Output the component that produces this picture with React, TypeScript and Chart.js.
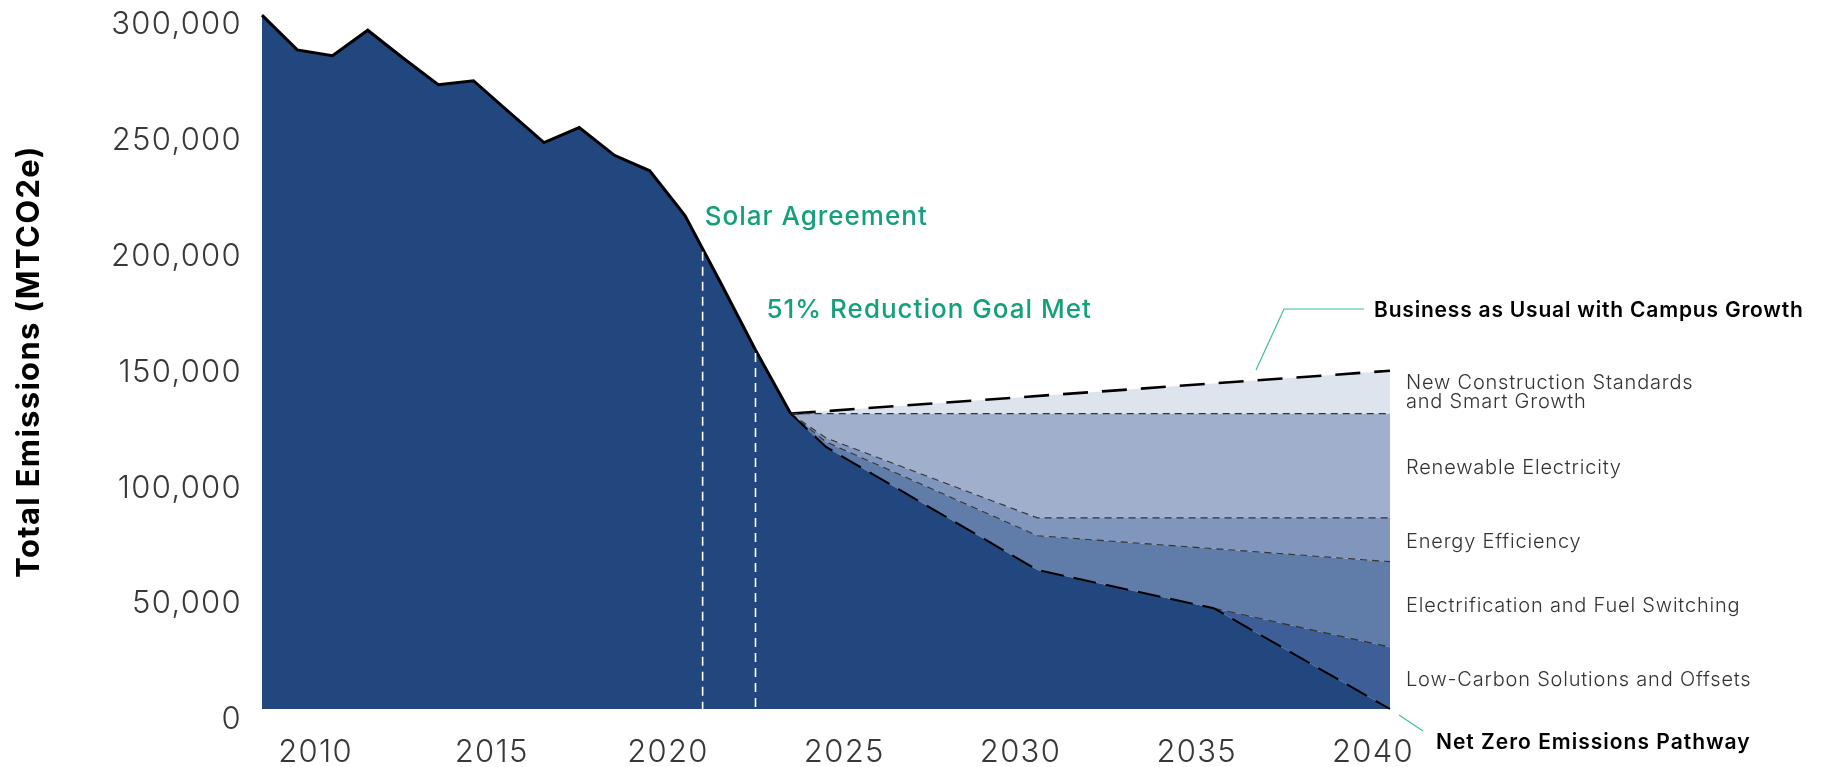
import React, { useEffect, useRef } from 'react';
import { Chart, registerables } from 'chart.js';

Chart.register(...registerables);

// ---------- data ----------
const HIST_YEARS = [2008, 2009, 2010, 2011, 2012, 2013, 2014, 2015, 2016, 2017, 2018, 2019, 2020, 2021, 2022, 2023];
const HIST_VALUES = [299500, 284500, 282000, 293000, 281000, 269500, 271200, 257800, 244500, 251000, 239000, 232300, 213000, 184300, 155000, 127500];

const PATH_YEARS = [2023, 2024, 2030, 2035, 2040];
const NET_ZERO_VALUES = [127500, 113100, 60000, 43500, 0];
const ELECTRIFICATION_VALUES = [127500, 113100, 60000, 43500, 26700];
const EFFICIENCY_VALUES = [127500, 115300, 74800, 69200, 63600];
const RENEWABLE_VALUES = [127500, 117000, 82500, 82500, 82500];
const NEW_CONSTRUCTION_VALUES = [127500, 127500, 127500, 127500, 127500];

const BAU_YEARS = [2023, 2040];
const BAU_VALUES = [127500, 146000];

const X_TICKS = [2010, 2015, 2020, 2025, 2030, 2035, 2040];
const Y_TICKS = [0, 50000, 100000, 150000, 200000, 250000, 300000];

const MILESTONE_YEARS = [2020.5, 2022];
const MILESTONE_LABELS = ['Solar Agreement', '51% Reduction Goal Met'];

const BAND_LABELS = [
  ['New Construction Standards', 'and Smart Growth'],
  ['Renewable Electricity'],
  ['Energy Efficiency'],
  ['Electrification and Fuel Switching'],
  ['Low-Carbon Solutions and Offsets'],
];
const BAU_LABEL = 'Business as Usual with Campus Growth';
const NET_ZERO_LABEL = 'Net Zero Emissions Pathway';
const Y_TITLE = 'Total Emissions (MTCO2e)';

// ---------- styles ----------
const FONT = 'Inter, "Open Sans", sans-serif';
const DARK = '#22477f';
const LOW_CARBON = '#3d5e96';
const ELECTRIFICATION = '#607ca8';
const EFFICIENCY = '#8096bd';
const RENEWABLE = '#a0afcc';
const NEW_CONSTRUCTION = '#dee4ed';
const GREEN = '#14a07a';
const LEADER = '#3cbf9a';
const THIN = '#333333';
const TEXT = '#383838';

const pts = (xs: number[], ys: number[]) => xs.map((x, i) => ({ x, y: ys[i] }));

// points of the electrification boundary where it departs from the net-zero path
const electrificationVisible = () => {
  const out: { x: number; y: number }[] = [];
  PATH_YEARS.forEach((yr, i) => {
    const differs = ELECTRIFICATION_VALUES[i] !== NET_ZERO_VALUES[i];
    const nextDiffers = i + 1 < PATH_YEARS.length && ELECTRIFICATION_VALUES[i + 1] !== NET_ZERO_VALUES[i + 1];
    if (differs || nextDiffers) out.push({ x: yr, y: ELECTRIFICATION_VALUES[i] });
  });
  return out;
};

const interpHist = (yr: number) => {
  for (let i = 0; i < HIST_YEARS.length - 1; i++) {
    if (yr >= HIST_YEARS[i] && yr <= HIST_YEARS[i + 1]) {
      const t = (yr - HIST_YEARS[i]) / (HIST_YEARS[i + 1] - HIST_YEARS[i]);
      return HIST_VALUES[i] + t * (HIST_VALUES[i + 1] - HIST_VALUES[i]);
    }
  }
  return 0;
};

const spacingPlugin = {
  id: 'spacing',
  beforeDraw(chart: any) {
    (chart.ctx as any).letterSpacing = '1.3px';
  },
};

const annotationPlugin = {
  id: 'annotations',
  afterDatasetsDraw(chart: any) {
    const { ctx, chartArea, scales } = chart;
    const x = scales.x;
    const y = scales.y;
    ctx.save();

    // milestone dashed lines + labels
    const textOffsets = [
      { dx: 2, dy: -35 },
      { dx: 11, dy: -43 },
    ];
    MILESTONE_YEARS.forEach((yr, k) => {
      const px = x.getPixelForValue(yr);
      const top = y.getPixelForValue(interpHist(yr)) + 3;
      const bottom = y.getPixelForValue(0);
      ctx.beginPath();
      ctx.strokeStyle = '#ffffff';
      ctx.lineWidth = 1.6;
      ctx.setLineDash([9, 6]);
      ctx.moveTo(px, top);
      ctx.lineTo(px, bottom);
      ctx.stroke();
      ctx.setLineDash([]);
      ctx.fillStyle = GREEN;
      ctx.letterSpacing = '1px';
      ctx.font = `500 26px ${FONT}`;
      ctx.textAlign = 'left';
      ctx.textBaseline = 'middle';
      ctx.fillText(MILESTONE_LABELS[k], px + textOffsets[k].dx, top + textOffsets[k].dy);
    });

    // band labels on the right
    const last = PATH_YEARS.length - 1;
    const bounds = [
      BAU_VALUES[BAU_VALUES.length - 1],
      NEW_CONSTRUCTION_VALUES[last],
      RENEWABLE_VALUES[last],
      EFFICIENCY_VALUES[last],
      ELECTRIFICATION_VALUES[last],
      NET_ZERO_VALUES[last],
    ];
    ctx.fillStyle = '#333333';
    ctx.letterSpacing = '0.8px';
    ctx.font = `300 20px ${FONT}`;
    ctx.textAlign = 'left';
    ctx.textBaseline = 'middle';
    const lx = chartArea.right + 16;
    BAND_LABELS.forEach((lines, k) => {
      const mid = (y.getPixelForValue(bounds[k]) + y.getPixelForValue(bounds[k + 1])) / 2 + 2;
      const lh = 19;
      lines.forEach((line, j) => {
        ctx.fillText(line, lx, mid + (j - (lines.length - 1) / 2) * lh - (lines.length > 1 ? 2 : 0));
      });
    });

    // BAU label + leader
    ctx.strokeStyle = LEADER;
    ctx.lineWidth = 1.2;
    ctx.beginPath();
    ctx.moveTo(chartArea.right - 134, 370);
    ctx.lineTo(chartArea.right - 106, 309);
    ctx.lineTo(chartArea.right - 26, 309);
    ctx.stroke();
    ctx.fillStyle = '#000';
    ctx.letterSpacing = '0.8px';
    ctx.font = `600 21px ${FONT}`;
    ctx.fillText(BAU_LABEL, chartArea.right - 16, 311);

    // Net zero label + leader
    ctx.beginPath();
    ctx.moveTo(chartArea.right + 9, chartArea.bottom + 6);
    ctx.lineTo(chartArea.right + 33, chartArea.bottom + 22);
    ctx.stroke();
    ctx.letterSpacing = '1px';
    ctx.fillText(NET_ZERO_LABEL, chartArea.right + 46, chartArea.bottom + 34);

    ctx.restore();
  },
};

export default function App() {
  const canvasRef = useRef<HTMLCanvasElement | null>(null);

  useEffect(() => {
    if (!canvasRef.current) return;
    const common = { pointRadius: 0, pointHoverRadius: 0, tension: 0, clip: false as any };
    const chart = new Chart(canvasRef.current, {
      type: 'line',
      data: {
        datasets: [
          {
            // 0: dark emissions area
            ...common,
            data: [...pts(HIST_YEARS, HIST_VALUES), ...pts(PATH_YEARS, NET_ZERO_VALUES).slice(1)],
            borderWidth: 0,
            borderColor: 'rgba(0,0,0,0)',
            backgroundColor: DARK,
            fill: 'origin',
          },
          {
            // 1: net zero pathway line
            ...common,
            data: pts(PATH_YEARS, NET_ZERO_VALUES),
            borderColor: '#000',
            borderWidth: 2,
            borderDash: [23, 10],
            fill: false,
          },
          {
            // 2: electrification boundary (fill only)
            ...common,
            data: pts(PATH_YEARS, ELECTRIFICATION_VALUES),
            borderWidth: 0,
            borderColor: 'rgba(0,0,0,0)',
            backgroundColor: LOW_CARBON,
            fill: { target: 1 },
          },
          {
            // 3: efficiency boundary
            ...common,
            data: pts(PATH_YEARS, EFFICIENCY_VALUES),
            borderColor: THIN,
            borderWidth: 1.1,
            borderDash: [7, 5],
            backgroundColor: ELECTRIFICATION,
            fill: { target: 2 },
          },
          {
            // 4: renewable boundary
            ...common,
            data: pts(PATH_YEARS, RENEWABLE_VALUES),
            borderColor: THIN,
            borderWidth: 1.1,
            borderDash: [7, 5],
            backgroundColor: EFFICIENCY,
            fill: { target: 3 },
          },
          {
            // 5: new construction boundary
            ...common,
            data: pts(PATH_YEARS, NEW_CONSTRUCTION_VALUES),
            borderColor: THIN,
            borderWidth: 1.1,
            borderDash: [7, 5],
            backgroundColor: RENEWABLE,
            fill: { target: 4 },
          },
          {
            // 6: business as usual
            ...common,
            data: pts(BAU_YEARS, BAU_VALUES),
            borderColor: '#000',
            borderWidth: 2.6,
            borderDash: [25, 14],
            backgroundColor: NEW_CONSTRUCTION,
            fill: { target: 5 },
          },
          {
            // 7: historical line
            ...common,
            data: pts(HIST_YEARS, HIST_VALUES),
            borderColor: '#000',
            borderWidth: 3,
            borderJoinStyle: 'miter',
            fill: false,
          },
          {
            // 8: electrification boundary line where it departs from net zero
            ...common,
            data: electrificationVisible(),
            borderColor: THIN,
            borderWidth: 1.2,
            borderDash: [8, 6],
            fill: false,
          },
        ],
      },
      options: {
        animation: false,
        responsive: true,
        maintainAspectRatio: false,
        events: [],
        layout: { padding: { top: 14, right: 436, left: 0, bottom: 0 } },
        plugins: {
          legend: { display: false },
          tooltip: { enabled: false },
          title: { display: false },
          filler: { drawTime: 'beforeDatasetsDraw' },
        },
        scales: {
          x: {
            type: 'linear',
            min: 2008,
            max: 2040,
            grid: { display: false, drawTicks: false },
            border: { display: false },
            afterBuildTicks: (axis: any) => {
              axis.ticks = X_TICKS.map((v) => ({ value: v }));
            },
            afterFit: (axis: any) => {
              axis.height = 58;
              axis.paddingLeft = 0;
              axis.paddingRight = 0;
            },
            ticks: {
              autoSkip: false,
              maxRotation: 0,
              padding: 25,
              labelOffset: -17,
              color: TEXT,
              font: { family: FONT, size: 31, weight: '300' as any },
              callback: (v: any) => String(v),
            },
          },
          y: {
            type: 'linear',
            min: 0,
            max: 300000,
            grid: { display: false, drawTicks: false },
            border: { display: false },
            afterBuildTicks: (axis: any) => {
              axis.ticks = Y_TICKS.map((v) => ({ value: v }));
            },
            afterFit: (axis: any) => {
              axis.width = 262;
              axis.paddingTop = 0;
              axis.paddingBottom = 0;
            },
            ticks: {
              padding: 20,
              labelOffset: 11,
              color: TEXT,
              font: { family: FONT, size: 31, weight: '300' as any },
              callback: (v: any) => Number(v).toLocaleString('en-US'),
            },
            title: {
              display: true,
              text: Y_TITLE,
              color: '#000',
              font: { family: FONT, size: 31, weight: 'bold' },
              padding: { top: 11, bottom: 0 },
            },
          },
        },
      },
      plugins: [spacingPlugin, annotationPlugin],
    } as any);
    return () => chart.destroy();
  }, []);

  return (
    <div style={{ position: 'fixed', left: 0, top: 0, width: 1826, height: 767, background: '#fff' }}>
      <canvas ref={canvasRef} />
    </div>
  );
}
